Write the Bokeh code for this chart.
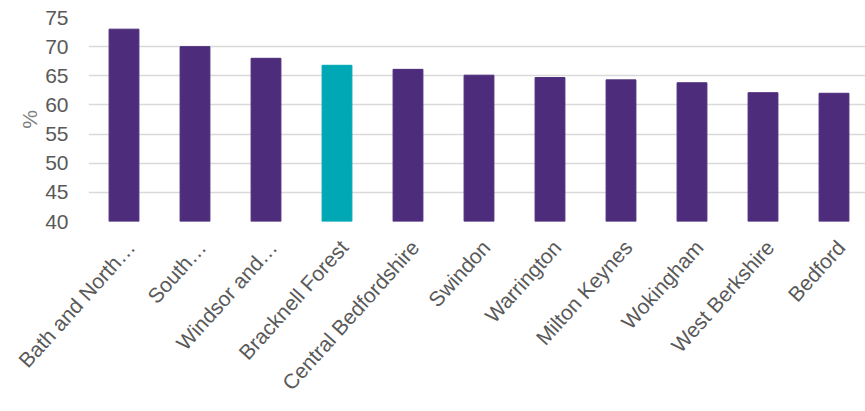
from bokeh.plotting import figure
from bokeh.models import Range1d, ColumnDataSource, FixedTicker, LinearAxis
from bokeh.embed import file_html
from bokeh.resources import INLINE
import math

areas = ["Bath and North\u2026", "South\u2026", "Windsor and\u2026", "Bracknell Forest",
         "Central Bedfordshire", "Swindon", "Warrington", "Milton Keynes",
         "Wokingham", "West Berkshire", "Bedford"]
values = [73.0, 70.0, 68.0, 66.8, 66.1, 65.1, 64.7, 64.3, 63.8, 62.1, 62.0]
highlight = "Bracknell Forest"
y_ticks = [40, 45, 50, 55, 60, 65, 70, 75]

PURPLE = "#4d2c7c"
TEAL = "#00a8b6"
colors = [TEAL if a == highlight else PURPLE for a in areas]
n = len(areas)
pos = list(range(n))

src = ColumnDataSource(dict(pos=pos, area=areas, value=values, color=colors))

LEFT = 88
W = 865
# category slots are 71px wide; the last slot is cut at the right edge
x_end = (W - LEFT) / 71 - 0.5
p = figure(x_range=Range1d(-0.5, x_end), y_range=Range1d(40, 75),
           width=W, height=411,
           output_backend="svg", toolbar_location=None,
           min_border_left=LEFT, min_border_top=17, min_border_right=0,
           min_border_bottom=190,
           outline_line_color=None, background_fill_color="white")

p.vbar(x="pos", top="value", bottom=40, width=0.42, color="color", source=src)

p.xaxis.visible = False

# category label axis, shifted slightly right (as in the original chart)
shift = 0.1
p.extra_x_ranges = {"lbl": Range1d(-0.5 - shift, x_end - shift)}
lbl_axis = LinearAxis(x_range_name="lbl",
                      ticker=FixedTicker(ticks=pos),
                      major_label_overrides={i: a for i, a in zip(pos, areas)})
lbl_axis.axis_line_color = None
lbl_axis.major_tick_line_color = None
lbl_axis.minor_tick_line_color = None
lbl_axis.major_label_text_font = "Liberation Sans"
lbl_axis.major_label_text_color = "#595959"
lbl_axis.major_label_text_font_size = "21px"
lbl_axis.major_label_orientation = math.radians(48)
lbl_axis.major_label_standoff = 16
p.add_layout(lbl_axis, "below")

p.yaxis.ticker = FixedTicker(ticks=y_ticks)
p.yaxis.axis_label = "%"
p.yaxis.axis_label_text_font = "Liberation Sans"
p.yaxis.axis_label_text_font_style = "normal"
p.yaxis.axis_label_text_font_size = "21px"
p.yaxis.axis_label_text_color = "#7f7f7f"
p.yaxis.axis_label_standoff = 1
p.yaxis.axis_line_color = None
p.yaxis.major_tick_line_color = None
p.yaxis.minor_tick_line_color = None
p.yaxis.major_label_text_font = "Liberation Sans"
p.yaxis.major_label_text_color = "#595959"
p.yaxis.major_label_text_font_size = "21px"
p.yaxis.major_label_standoff = 14

p.xgrid.grid_line_color = None
p.ygrid.grid_line_color = "#d9d9d9"
p.ygrid.grid_line_width = 1.5

open("out.html", "w").write(file_html(p, INLINE))
